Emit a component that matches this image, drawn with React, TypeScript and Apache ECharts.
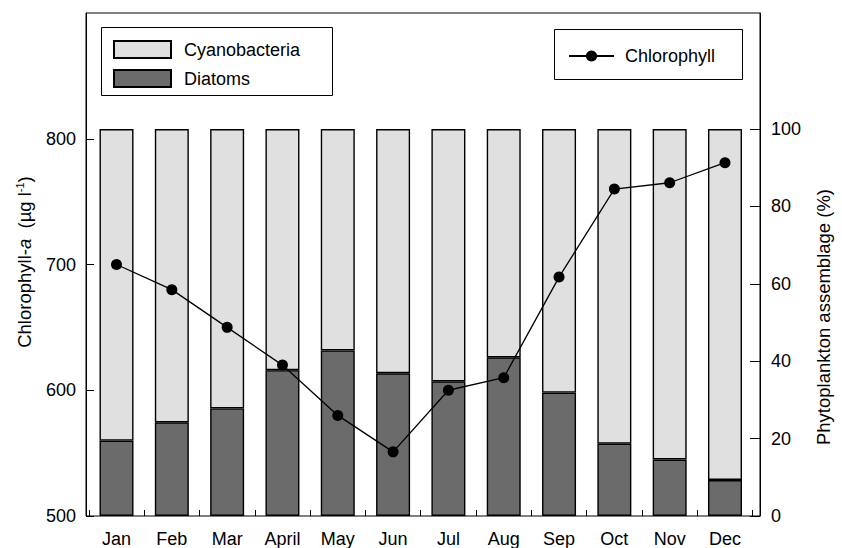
import React, { useEffect, useRef } from 'react';
import * as echarts from 'echarts';

const months = ['Jan', 'Feb', 'Mar', 'April', 'May', 'Jun', 'Jul', 'Aug', 'Sep', 'Oct', 'Nov', 'Dec'];
const diatoms = [19.5, 24.2, 27.8, 37.7, 42.8, 36.9, 34.8, 41.0, 31.9, 18.7, 14.6, 9.3];
const cyanobacteria = [80.5, 75.8, 72.2, 62.3, 57.2, 63.1, 65.2, 59.0, 68.1, 81.3, 85.4, 90.7];
const chlorophyll = [700, 680, 650, 620, 580, 551, 600, 610, 690, 760, 765, 781];
const leftTicks = [500, 600, 700, 800];
const rightTicks = [0, 20, 40, 60, 80, 100];

const FONT = '"Liberation Sans", Arial, Helvetica, sans-serif';

export default function App() {
  const ref = useRef<HTMLDivElement>(null);
  useEffect(() => {
    if (!ref.current) return;
    const chart = echarts.init(ref.current, undefined, { renderer: 'svg' });
    const option: any = {
      animation: false,
      backgroundColor: '#fff',
      textStyle: { fontFamily: FONT, color: '#000' },
      grid: [
        { left: 86, right: 82, top: 13, bottom: 32, show: true, borderColor: '#000', borderWidth: 1, backgroundColor: 'transparent' },
        { left: 88.85, right: 89.35, top: 13, bottom: 32 },
      ],
      legend: [
        {
          data: ['Cyanobacteria', 'Diatoms'],
          orient: 'vertical',
          left: 108,
          top: 35,
          itemWidth: 57,
          itemHeight: 17,
          itemGap: 10,
          icon: 'rect',
          selectedMode: false,
          textStyle: { fontFamily: FONT, fontSize: 18, color: '#000', padding: [0, 0, 0, 8] },
        },
        {
          data: ['Chlorophyll'],
          left: 563,
          top: 42,
          itemWidth: 45,
          itemHeight: 14,
          selectedMode: false,
          textStyle: { fontFamily: FONT, fontSize: 18, color: '#000', padding: [0, 0, 0, 6] },
        },
      ],
      xAxis: [
        { type: 'value', gridIndex: 0, show: false, min: 0, max: 1 },
        {
          type: 'category',
          gridIndex: 1,
          data: months,
          boundaryGap: true,
          axisLine: { show: false },
          axisTick: { show: true, inside: true, length: 6, lineStyle: { color: '#000' } },
          axisLabel: { margin: 14, fontSize: 18, fontFamily: FONT, color: '#000', interval: 0 },
          splitLine: { show: false },
        },
      ],
      yAxis: [
        {
          type: 'value',
          gridIndex: 0,
          position: 'left',
          min: 500,
          max: 900,
          axisLine: { show: true, lineStyle: { color: '#000', width: 1 } },
          axisTick: { show: true, inside: true, length: 8, lineStyle: { color: '#000' }, customValues: leftTicks },
          axisLabel: { customValues: leftTicks, margin: 10, fontSize: 18, fontFamily: FONT, color: '#000' },
          splitLine: { show: false },
        },
        {
          type: 'value',
          gridIndex: 0,
          position: 'right',
          min: 0,
          max: 130,
          axisLine: { show: true, lineStyle: { color: '#000', width: 1 } },
          axisTick: { show: true, inside: true, length: 10, lineStyle: { color: '#000' }, customValues: rightTicks },
          axisLabel: { customValues: rightTicks, margin: 11, fontSize: 18, fontFamily: FONT, color: '#000' },
          splitLine: { show: false },
        },
        { type: 'value', gridIndex: 1, show: false, min: 500, max: 900, splitLine: { show: false } },
        { type: 'value', gridIndex: 1, show: false, min: 0, max: 130, splitLine: { show: false } },
      ],
      series: [
        {
          name: 'Diatoms',
          type: 'bar',
          xAxisIndex: 1,
          yAxisIndex: 3,
          stack: 'phyto',
          barWidth: 34,
          data: diatoms,
          itemStyle: { color: '#6b6b6b', borderColor: '#000', borderWidth: 1.4 },
        },
        {
          name: 'Cyanobacteria',
          type: 'bar',
          xAxisIndex: 1,
          yAxisIndex: 3,
          stack: 'phyto',
          barWidth: 34,
          data: cyanobacteria,
          itemStyle: { color: '#e0e0e0', borderColor: '#000', borderWidth: 1.4 },
        },
        {
          name: 'Chlorophyll',
          type: 'line',
          xAxisIndex: 1,
          yAxisIndex: 2,
          z: 5,
          data: chlorophyll,
          symbol: 'circle',
          symbolSize: 11,
          lineStyle: { color: '#000', width: 1.3 },
          itemStyle: { color: '#000' },
        },
      ],
      graphic: [
        {
          type: 'rect',
          shape: { x: 101.5, y: 27.5, width: 231, height: 68 },
          style: { fill: 'none', stroke: '#000', lineWidth: 1 },
          silent: true,
          z: 1,
        },
        {
          type: 'rect',
          shape: { x: 554.5, y: 29.5, width: 188, height: 50 },
          style: { fill: 'none', stroke: '#000', lineWidth: 1 },
          silent: true,
          z: 1,
        },
        {
          type: 'text',
          x: 24,
          y: 262,
          rotation: Math.PI / 2,
          style: {
            text: 'Chlorophyll-{i|a}  (µg l{s|-1})',
            align: 'center',
            verticalAlign: 'middle',
            fontFamily: FONT,
            fontSize: 18.5,
            fill: '#000',
            rich: {
              i: { fontStyle: 'italic', fontSize: 18.5, fontFamily: FONT },
              s: { fontSize: 11, verticalAlign: 'top', fontFamily: FONT },
            },
          },
        },
        {
          type: 'text',
          x: 823,
          y: 317,
          rotation: Math.PI / 2,
          style: {
            text: 'Phytoplankton assemblage (%)',
            align: 'center',
            verticalAlign: 'middle',
            fontFamily: FONT,
            fontSize: 18.5,
            fill: '#000',
          },
        },
      ],
    };
    chart.setOption(option);
    return () => chart.dispose();
  }, []);
  return <div ref={ref} style={{ position: 'fixed', left: 0, top: 0, width: 842, height: 548 }} />;
}
